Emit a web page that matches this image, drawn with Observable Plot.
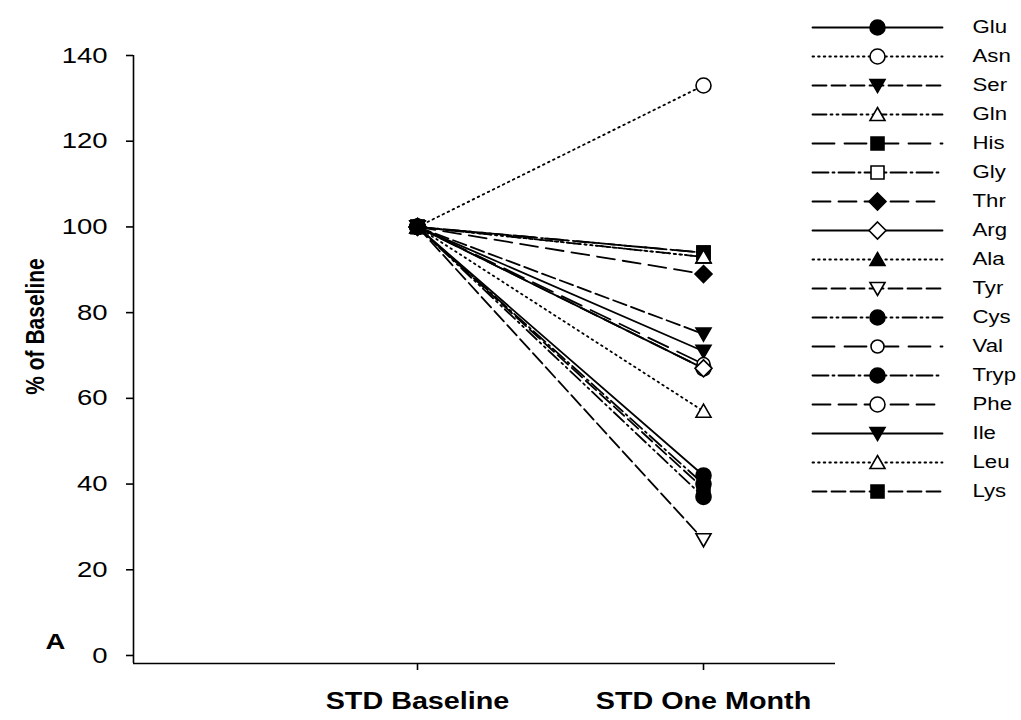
<!DOCTYPE html>
<html>
<head>
<meta charset="utf-8">
<script src="https://cdn.jsdelivr.net/npm/d3@7"></script>
<script src="https://cdn.jsdelivr.net/npm/@observablehq/plot@0.6"></script>
<style>
  html, body { margin: 0; padding: 0; background: #fff; }
  #wrap { position: relative; width: 1021px; height: 720px; }
  #legend { position: absolute; left: 800px; top: 0; }
</style>
</head>
<body>
<div id="wrap"><div id="chart"></div><div id="legend"></div></div>
<script>
// ---- data ----
const timepoints = ["STD Baseline", "STD One Month"];
const aminoAcids = ["Glu","Asn","Ser","Gln","His","Gly","Thr","Arg","Ala","Tyr","Cys","Val","Tryp","Phe","Ile","Leu","Lys"];
const baselineValues = [100,100,100,100,100,100,100,100,100,100,100,100,100,100,100,100,100];
const oneMonthValues = [42,133,75,93,94,94,89,67,93,27,37,68,40,67,71,57,39];
const yTicks = [0,20,40,60,80,100,120,140];
const yLabel = "% of Baseline";
const panelLabel = "A";

// ---- styles (per series) ----
const markerShapes = ["circle","circle","triangleDown","triangle","square","square","diamond","diamond","triangle","triangleDown","circle","circleSmall","circle","circle","triangleDown","triangle","square"];
const markerFilled = [true,false,true,false,true,false,true,false,true,false,true,false,true,false,true,false,true];
const lineDashes = {
  solid: null, dotted: "1.6,4", dashed: "14,5", dashDotDot: "14,4,2,4,2,4",
  longDash: "22,10", dashDot: "16,4,2,4", medDash: "18,8"
};
const lineStyles = ["solid","dotted","dashed","dashDotDot","longDash","dashDot","medDash","solid","dotted","dashed","dashDotDot","longDash","dashDot","medDash","solid","dotted","dashed"];

// custom symbols
const sym = {
  circle: {draw(c){ c.moveTo(7.5,0); c.arc(0,0,7.5,0,2*Math.PI); }},
  circleSmall: {draw(c){ c.moveTo(6.5,0); c.arc(0,0,6.5,0,2*Math.PI); }},
  square: {draw(c){ c.rect(-6.5,-6.5,13,13); }},
  diamond: {draw(c){ c.moveTo(0,-8.5); c.lineTo(8.5,0); c.lineTo(0,8.5); c.lineTo(-8.5,0); c.closePath(); }},
  triangle: {draw(c){ c.moveTo(0,-7); c.lineTo(7.5,6); c.lineTo(-7.5,6); c.closePath(); }},
  triangleDown: {draw(c){ c.moveTo(0,7); c.lineTo(7.5,-6); c.lineTo(-7.5,-6); c.closePath(); }}
};

const FONT = "Arial, 'Liberation Sans', sans-serif";

// build rows
const rows = [];
aminoAcids.forEach((aa, i) => {
  rows.push({aa, t: 0, v: baselineValues[i]});
  rows.push({aa, t: 1, v: oneMonthValues[i]});
});

const yMin = -1.87, xMin = -0.993, xMax = 1.4615;

const seriesMarks = [];
for (let i = aminoAcids.length - 1; i >= 0; --i) {
  const aa = aminoAcids[i];
  const d = rows.filter(r => r.aa === aa);
  seriesMarks.push(Plot.line(d, {x: "t", y: "v", stroke: "black", strokeWidth: 1.8,
    strokeDasharray: lineDashes[lineStyles[i]] || undefined}));
}
for (let i = aminoAcids.length - 1; i >= 0; --i) {
  const aa = aminoAcids[i];
  const d = rows.filter(r => r.aa === aa);
  seriesMarks.push(Plot.dot(d, {x: "t", y: "v", symbol: sym[markerShapes[i]], r: 7,
    fill: markerFilled[i] ? "black" : "white", stroke: "black", strokeWidth: 1.6}));
}

const chart = Plot.plot({
  width: 1021, height: 720,
  marginLeft: 133, marginRight: 186, marginTop: 55, marginBottom: 57,
  style: {fontFamily: FONT, color: "black", background: "white"},
  x: {domain: [xMin, xMax]},
  y: {domain: [yMin, 140]},
  marks: [
    Plot.ruleX([xMin], {y1: yMin, y2: 140, stroke: "black", strokeWidth: 1.6}),
    Plot.ruleY([yMin], {x1: xMin, x2: xMax, stroke: "black", strokeWidth: 1.6}),
    Plot.axisY({ticks: yTicks, tickSize: 7, tickPadding: 19, fontSize: 22, label: null, strokeWidth: 1.6}),
    Plot.axisX({ticks: [0, 1], tickFormat: d => timepoints[d], tickSize: 7, tickPadding: 22,
      fontSize: 23, fontWeight: "bold", label: null, strokeWidth: 1.6}),
    Plot.text([yLabel], {frameAnchor: "left", textAnchor: "middle", lineAnchor: "middle", rotate: -90,
      dx: -98, dy: -33, fontSize: 21, fontWeight: "bold", fill: "black"}),
    Plot.text([panelLabel], {frameAnchor: "bottom-left", textAnchor: "middle", lineAnchor: "middle",
      dx: -78, dy: -22, fontSize: 22, fontWeight: "bold", fill: "black"}),
    ...seriesMarks
  ]
});

// legend
const legendRows = [];
aminoAcids.forEach((aa) => { legendRows.push({aa, x: 0}); legendRows.push({aa, x: 1}); });
const legendMarks = [];
aminoAcids.forEach((aa, i) => {
  legendMarks.push(Plot.line(legendRows.filter(r => r.aa === aa), {x: "x", y: "aa", stroke: "black", strokeWidth: 1.8,
    strokeDasharray: lineDashes[lineStyles[i]] || undefined}));
  legendMarks.push(Plot.dot([{aa, x: 0.5}], {x: "x", y: "aa", symbol: sym[markerShapes[i]], r: 7,
    fill: markerFilled[i] ? "black" : "white", stroke: "black", strokeWidth: 1.6}));
});
legendMarks.push(Plot.text(aminoAcids, {x: 1, y: d => d, text: d => d, textAnchor: "start", dx: 30,
  fontSize: 18.5, fill: "black"}));

const legend = Plot.plot({
  width: 221, height: 520,
  marginLeft: 12, marginRight: 79, marginTop: 22, marginBottom: 25,
  style: {fontFamily: FONT, color: "black", background: "transparent"},
  x: {domain: [0, 1], axis: null},
  y: {type: "point", domain: aminoAcids, padding: 0, axis: null},
  marks: legendMarks
});

function stretch(svg, k) {
  d3.select(svg).selectAll("text").each(function() {
    const t = this.getAttribute("transform");
    if (t) {
      this.setAttribute("transform", t + (t.includes("rotate") ? ` scale(1,${k})` : ` scale(${k},1)`));
    } else {
      const x = +this.getAttribute("x") || 0, y = +this.getAttribute("y") || 0;
      this.removeAttribute("x"); this.removeAttribute("y");
      this.setAttribute("transform", `translate(${x},${y}) scale(${k},1)`);
    }
  });
}
stretch(chart, 1.25);
stretch(legend, 1.2);

document.getElementById("chart").appendChild(chart);
document.getElementById("legend").appendChild(legend);
</script>
</body>
</html>
